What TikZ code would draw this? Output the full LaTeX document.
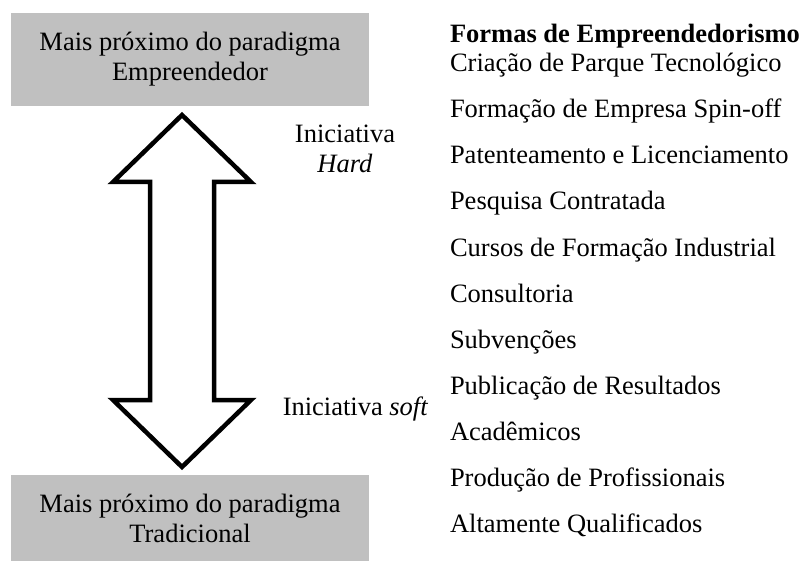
\documentclass[tikz,border=0pt]{standalone}
\usepackage{fontspec}
\setmainfont{Liberation Serif}
\definecolor{boxgray}{RGB}{192,192,192}
\begin{document}
\begin{tikzpicture}[x=1pt,y=-1pt,
  every node/.style={inner sep=0pt, outer sep=0pt, font=\fontsize{26.5}{30}\selectfont},
  paradigm/.style={fill=boxgray, align=center, minimum width=358pt, minimum height=#1, anchor=north west},
  lab/.style={align=center},
  item/.style={anchor=base west}]
\useasboundingbox (0,0) rectangle (805,561);
\fill[white] (0,0) rectangle (805,561);
% boxes
\node[paradigm=93pt] (empr) at (11,13) {Mais próximo do paradigma\\Empreendedor};
\node[paradigm=86pt] (trad) at (11,475) {Mais próximo do paradigma\\Tradicional};
% double arrow
\draw[line width=4.5pt, miter limit=10, fill=white]
  (182,115) -- (251,182) -- (214,182) -- (214,400) -- (251,400) -- (182,467)
  -- (113,400) -- (150,400) -- (150,182) -- (113,182) -- cycle;
% labels
\node[lab, anchor=base] (hard) at (345,173) {Iniciativa\\\textit{Hard}};
\node[anchor=base] (soft) at (355.5,415) {Iniciativa \textit{soft}};
% list
\node[item] (h) at (450,43) {\textbf{Formas de Empreendedorismo}};
\node[item] (i1) at (450,72) {Criação de Parque Tecnológico};
\node[item] (i2) at (450,118) {Formação de Empresa Spin-off};
\node[item] (i3) at (450,164) {Patenteamento e Licenciamento};
\node[item] (i4) at (450,210) {Pesquisa Contratada};
\node[item] (i5) at (450,256) {Cursos de Formação Industrial};
\node[item] (i6) at (450,302) {Consultoria};
\node[item] (i7) at (450,348) {Subvenções};
\node[item] (i8) at (450,394) {Publicação de Resultados};
\node[item] (i9) at (450,440) {Acadêmicos};
\node[item] (i10) at (450,486) {Produção de Profissionais};
\node[item] (i11) at (450,532) {Altamente Qualificados};
\end{tikzpicture}
\end{document}
